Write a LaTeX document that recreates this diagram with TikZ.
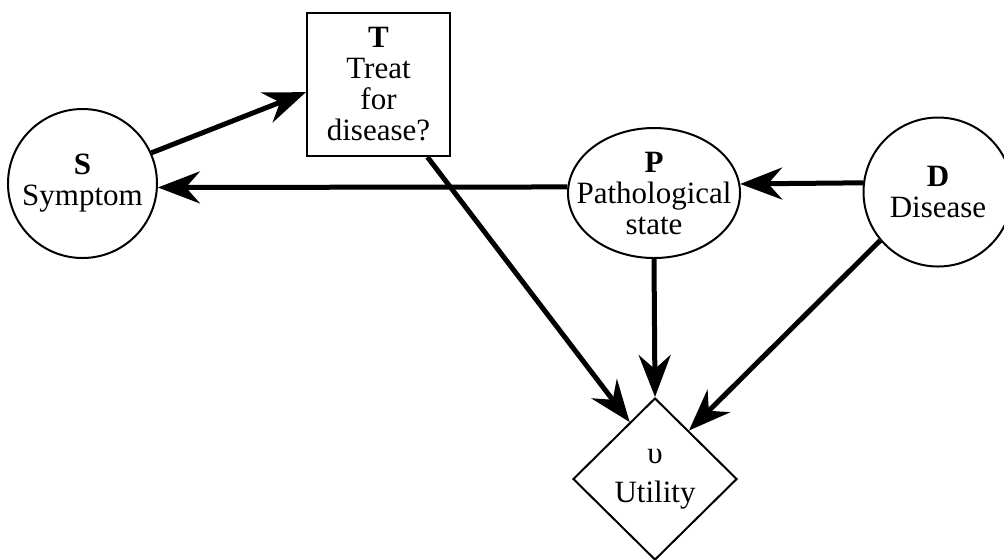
\documentclass[tikz,border=0pt]{standalone}
\usepackage{fontspec}
\setmainfont{Liberation Serif}
\usetikzlibrary{arrows.meta,shapes.geometric}
\begin{document}
\begin{tikzpicture}[x=0.5pt,y=-0.5pt,
  every node/.style={font=\fontsize{15.5}{15.5}\selectfont, align=center,
                     inner sep=0pt, line width=1pt, draw},
  chance/.style={circle, minimum size=74.5pt},
  pstate/.style={ellipse, inner xsep=-10pt, minimum width=86pt, minimum height=65pt},
  decision/.style={rectangle, minimum width=71.5pt, minimum height=71.5pt},
  valuenode/.style={diamond, minimum width=82pt, minimum height=81pt},
  link/.style={line width=2.5pt, -{Stealth[length=21pt,width=16pt,inset=7pt]}}
]
\useasboundingbox (0,0) rectangle (1004,559);

% nodes of the influence diagram
\node[chance]    (S) at (82.5,183.5) {\textbf{S}\\Symptom};
\node[decision]  (T) at (378.5,84.5) {\textbf{T}\\Treat\\for\\disease?};
\node[pstate]    (P) at (654,193)    {\textbf{P}\\Pathological\\state};
\node[chance]    (D) at (938,192)    {\textbf{D}\\Disease};
\node[valuenode] (U) at (655,479)    {υ\\[4pt]Utility};

% influences
\draw[link] (S.24)  -- (T.186);
\draw[link] (P.176) -- (S.-3);
\draw[link] (D.173) -- (P.6.7);
\draw[link] (T.-56) -- (U.114);
\draw[link] (P.south) -- (U.north);
\draw[link] (D.220) -- (U.55);
\end{tikzpicture}
\end{document}
